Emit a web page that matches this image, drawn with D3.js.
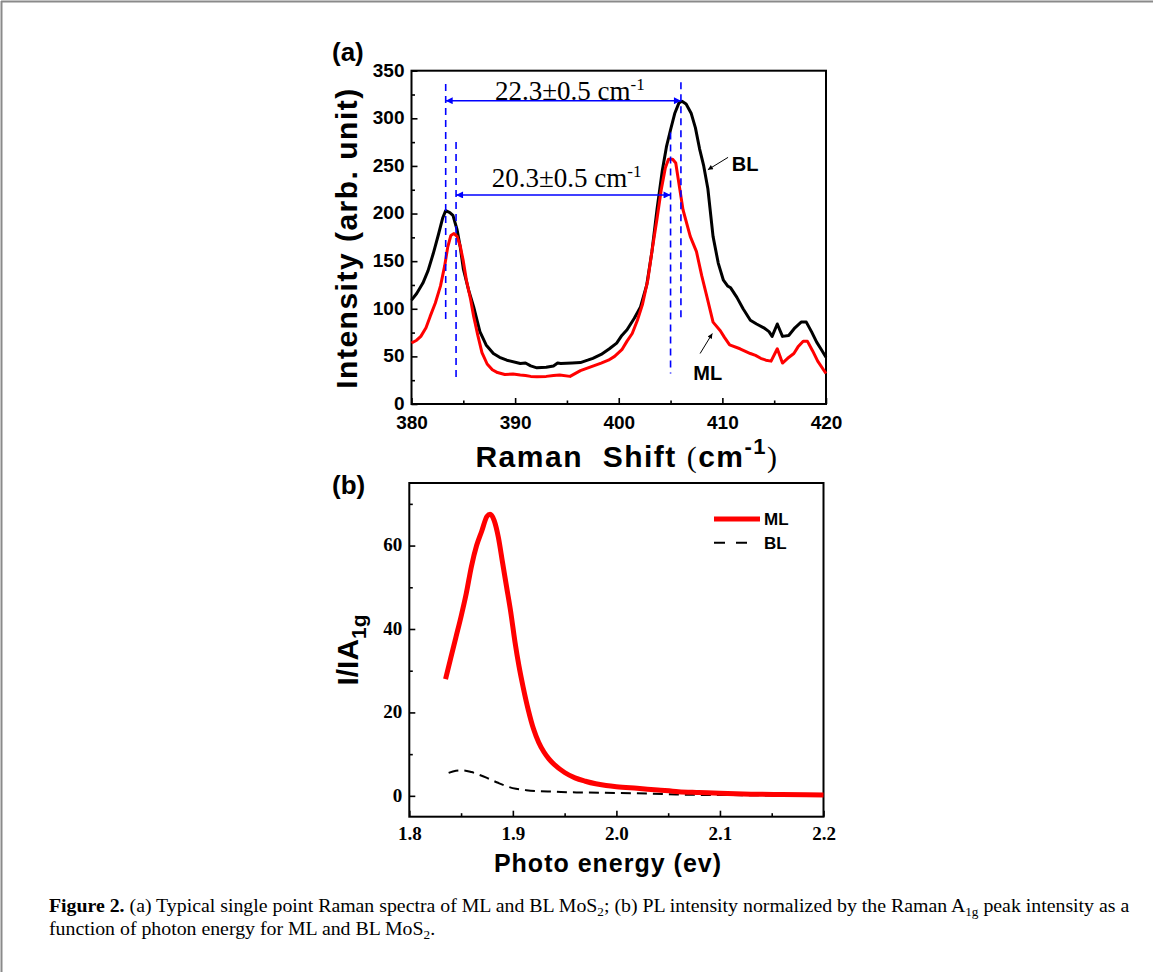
<!DOCTYPE html>
<html>
<head>
<meta charset="utf-8">
<script src="https://d3js.org/d3.v7.min.js"></script>
<style>
body { margin: 0; background: #fff; }
svg text { font-family: "Liberation Sans", Arial, sans-serif; white-space: pre; }
svg text.serif { font-family: "Liberation Serif", "Times New Roman", serif; }
</style>
</head>
<body>
<svg id="fig"></svg>
<script>
// Raman spectra, panel (a): [shift cm-1, intensity]
var ramanBL = [[380,109],[380.5,116],[381.1,127],[381.6,140],[382.1,158],[382.6,178],[383.0,195],[383.3,203],
  [383.7,201],[384.0,198],[384.4,183],[384.7,165],[385.0,142],[385.5,120],[386.0,102],[386.6,76],[387.2,62],
  [387.9,53],[388.5,49],[389.2,46],[390.5,42.5],[391.0,43],[391.5,40],[392.1,38],[393.0,38.5],[393.7,40],
  [394.1,43],[394.4,42.5],[395.5,43],[396.3,43.5],[397.0,46],[397.5,48],[398.3,52],[399.1,58],[399.8,64],
  [400.3,72],[400.8,78],[401.5,90],[402.1,102],[402.7,125],[403.2,160],[403.7,205],[404.2,245],[404.6,270],
  [405.0,288],[405.4,305],[405.8,316],[406.1,318],[406.5,315],[407.0,305],[407.4,290],[407.8,268],[408.2,250],
  [408.6,226],[409.1,176],[409.6,148],[410.1,130],[410.5,124],[410.8,122],[411.4,112],[412.0,100],[412.7,88],
  [413.3,84],[414.0,80],[414.5,76],[414.8,71],[415.3,84],[415.8,71],[416.4,72],[417.0,80],[417.6,86],
  [418.1,86],[418.6,76],[419.1,65],[419.5,58],[420,49]];
var ramanML = [[380,64],[380.5,67],[380.9,71],[381.4,80],[381.8,92],[382.3,106],[382.8,124],[383.2,145],
  [383.5,165],[383.8,177],[384.1,179],[384.4,176],[384.7,166],[385.0,150],[385.3,130],[385.7,110],[386.0,92],
  [386.4,72],[386.8,54],[387.3,42],[387.8,36],[388.3,33],[389.0,31],[389.8,31.5],[390.5,30.5],[391.0,30],
  [391.5,29],[392.1,28.7],[393.0,29],[393.7,30],[394.3,30.5],[395.3,29],[396.3,35],[397.3,39],[398.3,43],
  [399.0,46],[399.6,50],[400.3,57],[400.8,66],[401.3,74],[401.8,88],[402.3,105],[402.8,130],[403.2,160],
  [403.7,195],[404.1,225],[404.5,248],[404.8,257],[405.2,257],[405.5,253],[405.8,232],[406.2,204],[406.9,176],
  [407.5,160],[408.0,135],[408.5,113],[409.1,86],[409.8,77],[410.2,70],[410.7,62],[411.7,58],[412.7,53],
  [413.2,51],[413.7,48],[414.2,46],[414.7,45],[415.3,58],[415.8,43],[416.3,48],[416.9,53],[417.3,60],
  [417.8,66],[418.2,66],[418.7,56],[419.2,45],[420,32]];

// PL, panel (b): [photon energy eV, I/I_A1g]
var plML = [[1.835,28],[1.840,33],[1.845,38],[1.850,43],[1.855,48.5],[1.860,55],[1.865,60],[1.870,63.5],
  [1.875,67],[1.878,67.5],[1.882,66],[1.886,62],[1.890,56],[1.894,50],[1.898,44],[1.902,37],[1.906,31],
  [1.910,26],[1.915,20.5],[1.920,16],[1.925,12.8],[1.930,10.5],[1.935,8.8],[1.940,7.5],[1.950,5.6],
  [1.960,4.3],[1.970,3.5],[1.980,2.9],[1.990,2.5],[2.000,2.2],[2.020,1.8],[2.040,1.4],[2.060,1.0],
  [2.080,0.8],[2.100,0.6],[2.130,0.4],[2.160,0.3],[2.200,0.2]];
var plBL = [[1.838,5.5],[1.845,6.0],[1.852,6.1],[1.860,5.7],[1.868,5.0],[1.875,4.3],[1.885,3.2],[1.894,2.3],
  [1.903,1.7],[1.913,1.35],[1.925,1.1],[1.939,1.0],[1.955,0.85],[1.970,0.8],[2.000,0.7],[2.020,0.6],
  [2.050,0.4],[2.070,0.25],[2.100,0.2],[2.150,0.1],[2.200,0.05]];

var ramanXTicks = [380, 390, 400, 410, 420];
var ramanXMinor = [385, 395, 405, 415];
var ramanYTicks = [0, 50, 100, 150, 200, 250, 300, 350];
var ramanYMinor = [25, 75, 125, 175, 225, 275, 325];
var plXTicks = [1.8, 1.9, 2.0, 2.1, 2.2];
var plXMinor = [1.85, 1.95, 2.05, 2.15];
var plYTicks = [0, 20, 40, 60];
var plYMinor = [10, 30, 50, 70];

var W = 1153, H = 972;
var svg = d3.select("#fig").attr("width", W).attr("height", H);

var defs = svg.append("defs");
defs.append("marker").attr("id", "arrBlue")
    .attr("viewBox", "0 0 10 10").attr("refX", 10).attr("refY", 5)
    .attr("markerUnits", "userSpaceOnUse").attr("markerWidth", 9).attr("markerHeight", 7)
    .attr("orient", "auto-start-reverse")
  .append("path").attr("d", "M0,0L10,5L0,10z").attr("fill", "blue");
defs.append("marker").attr("id", "arrBlack")
    .attr("viewBox", "0 0 10 10").attr("refX", 10).attr("refY", 5)
    .attr("markerUnits", "userSpaceOnUse").attr("markerWidth", 8).attr("markerHeight", 5)
    .attr("orient", "auto")
  .append("path").attr("d", "M0,0L10,5L0,10z").attr("fill", "black");

// page frame
svg.append("line").attr("x1", 1).attr("y1", 1.5).attr("x2", W).attr("y2", 1.5)
    .attr("stroke", "#8a8a8a").attr("stroke-width", 2);
svg.append("line").attr("x1", 1.5).attr("y1", 1).attr("x2", 1.5).attr("y2", H)
    .attr("stroke", "#8a8a8a").attr("stroke-width", 2);

function axes(x, y, box, xt, xm, yt, ym, fx, fy, font, xpad) {
    var bx = svg.append("g").attr("transform", `translate(0,${box.bottom})`)
        .call(d3.axisBottom(x).tickValues(xt).tickSizeInner(-6).tickSizeOuter(0).tickPadding(xpad).tickFormat(fx));
    var bxm = svg.append("g").attr("transform", `translate(0,${box.bottom})`)
        .call(d3.axisBottom(x).tickValues(xm).tickSizeInner(-3.5).tickSizeOuter(0).tickFormat(""));
    var ly = svg.append("g").attr("transform", `translate(${box.left},0)`)
        .call(d3.axisLeft(y).tickValues(yt).tickSizeInner(-6).tickSizeOuter(0).tickPadding(7).tickFormat(fy));
    var lym = svg.append("g").attr("transform", `translate(${box.left},0)`)
        .call(d3.axisLeft(y).tickValues(ym).tickSizeInner(-3.5).tickSizeOuter(0).tickFormat(""));
    [bx, bxm, ly, lym].forEach(function(g) {
        g.select(".domain").remove();
        g.selectAll(".tick line").attr("stroke", "#000").attr("stroke-width", 1.6);
        g.selectAll(".tick text").attr("fill", "#000")
            .style("font-family", font).style("font-size", "19px").style("font-weight", "bold");
    });
    ly.selectAll(".tick text").attr("dy", "0.28em");
    svg.append("rect").attr("x", box.left).attr("y", box.top)
        .attr("width", box.right - box.left).attr("height", box.bottom - box.top)
        .attr("fill", "none").attr("stroke", "#000").attr("stroke-width", 2);
}

// ---------- panel (a)
var A = {left: 411.5, right: 826, top: 70.7, bottom: 404};
var xA = d3.scaleLinear().domain([380, 420]).range([A.left, A.right]);
var yA = d3.scaleLinear().domain([0, 350]).range([A.bottom, A.top]);
axes(xA, yA, A, ramanXTicks, ramanXMinor, ramanYTicks, ramanYMinor,
     d3.format("d"), d3.format("d"), '"Liberation Sans", Arial, sans-serif', 12);

var lineA = d3.line().x(function(d) { return xA(d[0]); }).y(function(d) { return yA(d[1]); });
svg.append("path").datum(ramanBL).attr("fill", "none").attr("stroke", "#000")
    .attr("stroke-width", 3).attr("stroke-linejoin", "round").attr("d", lineA);
svg.append("path").datum(ramanML).attr("fill", "none").attr("stroke", "#ff0000")
    .attr("stroke-width", 3).attr("stroke-linejoin", "round").attr("d", lineA);

// blue dashed guides + double arrows
[[383.3, 336, 86], [384.3, 275, 25], [405.0, 285, 32], [406.0, 338, 88]].forEach(function(v) {
    svg.append("line").attr("x1", xA(v[0])).attr("x2", xA(v[0]))
        .attr("y1", yA(v[1])).attr("y2", yA(v[2]))
        .attr("stroke", "blue").attr("stroke-width", 1.6).attr("stroke-dasharray", "7,5");
});
[[383.3, 406.0, 318.5], [384.3, 405.0, 219.5]].forEach(function(h) {
    svg.append("line").attr("x1", xA(h[0])).attr("x2", xA(h[1]))
        .attr("y1", yA(h[2])).attr("y2", yA(h[2]))
        .attr("stroke", "blue").attr("stroke-width", 1.6)
        .attr("marker-start", "url(#arrBlue)").attr("marker-end", "url(#arrBlue)");
});
[["22.3\u00b10.5 cm", 388.06, 319.5], ["20.3\u00b10.5 cm", 387.74, 228]].forEach(function(t) {
    var tx = svg.append("text").attr("class", "serif").attr("x", xA(t[1])).attr("y", yA(t[2]))
        .style("font-size", "27px").text(t[0]);
    tx.append("tspan").attr("dy", -10).style("font-size", "17px").text("-1");
});

// BL / ML pointers
svg.append("line").attr("x1", xA(410.55)).attr("y1", yA(259)).attr("x2", xA(408.6)).attr("y2", yA(246))
    .attr("stroke", "#000").attr("stroke-width", 1).attr("marker-end", "url(#arrBlack)");
svg.append("text").attr("x", xA(410.9)).attr("y", yA(245))
    .style("font-size", "20px").style("font-weight", "bold").text("BL");
svg.append("line").attr("x1", xA(407.85)).attr("y1", yA(53)).attr("x2", xA(409.03)).attr("y2", yA(74))
    .attr("stroke", "#000").attr("stroke-width", 1).attr("marker-end", "url(#arrBlack)");
svg.append("text").attr("x", xA(407.2)).attr("y", yA(25))
    .style("font-size", "20px").style("font-weight", "bold").text("ML");

svg.append("text").attr("x", 332).attr("y", 61)
    .style("font-size", "26px").style("font-weight", "bold").text("(a)");

svg.append("text").attr("transform", "translate(357,238) rotate(-90)")
    .attr("text-anchor", "middle").style("font-size", "30px").style("font-weight", "bold")
    .style("letter-spacing", "1.5px").text("Intensity (arb. unit)");

var xtA = svg.append("text").attr("x", 627).attr("y", 467).attr("text-anchor", "middle")
    .style("font-size", "30px").style("font-weight", "bold").style("letter-spacing", "1.5px");
xtA.append("tspan").text("Raman  Shift ");
xtA.append("tspan").style("font-family", '"Liberation Serif", serif').style("font-weight", "normal").text("(");
xtA.append("tspan").text("cm");
xtA.append("tspan").attr("dy", -13).style("font-size", "22px").text("-1");
xtA.append("tspan").attr("dy", 13).style("font-family", '"Liberation Serif", serif')
    .style("font-weight", "normal").text(")");

// ---------- panel (b)
var B = {left: 409.3, right: 823.5, top: 483, bottom: 816.7};
var xB = d3.scaleLinear().domain([1.8, 2.2]).range([B.left, B.right]);
var yB = d3.scaleLinear().domain([-5, 75]).range([B.bottom, B.top]);
axes(xB, yB, B, plXTicks, plXMinor, plYTicks, plYMinor,
     d3.format(".1f"), d3.format("d"), '"Liberation Serif", "Times New Roman", serif', 10);

var lineB = d3.line().curve(d3.curveMonotoneX)
    .x(function(d) { return xB(d[0]); }).y(function(d) { return yB(d[1]); });
svg.append("path").datum(plBL).attr("fill", "none").attr("stroke", "#000")
    .attr("stroke-width", 2).attr("stroke-dasharray", "10,6").attr("d", lineB);
svg.append("path").datum(plML).attr("fill", "none").attr("stroke", "#ff0000")
    .attr("stroke-width", 5).attr("stroke-linejoin", "round").attr("d", lineB);

// legend
svg.append("line").attr("x1", 714).attr("x2", 760).attr("y1", 519).attr("y2", 519)
    .attr("stroke", "#ff0000").attr("stroke-width", 5);
svg.append("text").attr("x", 764).attr("y", 525)
    .style("font-size", "17px").style("font-weight", "bold").text("ML");
svg.append("line").attr("x1", 714).attr("x2", 748).attr("y1", 542.7).attr("y2", 542.7)
    .attr("stroke", "#000").attr("stroke-width", 2).attr("stroke-dasharray", "11,11");
svg.append("text").attr("x", 764).attr("y", 549)
    .style("font-size", "17px").style("font-weight", "bold").text("BL");

svg.append("text").attr("x", 332).attr("y", 494)
    .style("font-size", "26px").style("font-weight", "bold").text("(b)");

var ytB = svg.append("text").attr("transform", "translate(358,650) rotate(-90)")
    .attr("text-anchor", "middle").style("font-size", "30px").style("font-weight", "bold");
ytB.append("tspan").text("I/IA");
ytB.append("tspan").attr("dy", 8).style("font-size", "21px").text("1g");

svg.append("text").attr("x", 608).attr("y", 872).attr("text-anchor", "middle")
    .style("font-size", "25px").style("font-weight", "bold").style("letter-spacing", "1px")
    .text("Photo energy (ev)");

// ---------- caption
var cap = svg.append("g");
var l1 = cap.append("text").attr("class", "serif").attr("x", 0).attr("y", 0).style("font-size", "18px");
l1.append("tspan").style("font-weight", "bold").text("Figure 2.");
l1.append("tspan").text(" (a) Typical single point Raman spectra of ML and BL MoS");
l1.append("tspan").attr("dy", 4).style("font-size", "12px").text("2");
l1.append("tspan").attr("dy", -4).text("; (b) PL intensity normalized by the Raman A");
l1.append("tspan").attr("dy", 4).style("font-size", "12px").text("1g");
l1.append("tspan").attr("dy", -4).text(" peak intensity as a");
var l2 = cap.append("text").attr("class", "serif").attr("x", 0).attr("y", 23).style("font-size", "18px");
l2.append("tspan").text("function of photon energy for ML and BL MoS");
l2.append("tspan").attr("dy", 4).style("font-size", "12px").text("2");
l2.append("tspan").attr("dy", -4).text(".");
var k = (1130 - 49) / l1.node().getComputedTextLength();
cap.attr("transform", `translate(49,912) scale(${k},1)`);
</script>
</body>
</html>
